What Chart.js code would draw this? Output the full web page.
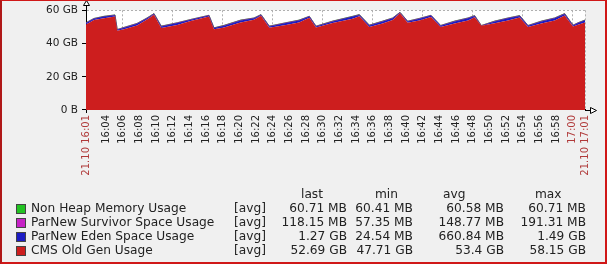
<!DOCTYPE html>
<html>
<head>
<meta charset="utf-8">
<script src="https://cdn.jsdelivr.net/npm/chart.js@4.4.1/dist/chart.umd.min.js"></script>
<style>
  html, body { margin: 0; padding: 0; background: #f0f0f0; }
  #wrap { position: relative; width: 607px; height: 264px; background: #f0f0f0; overflow: hidden;
          font-family: "DejaVu Sans", sans-serif; color: #222; }
  #c { position: absolute; left: 0; top: 0; }
  #frame { position: absolute; left: 0; top: 0; width: 607px; height: 264px; box-sizing: border-box;
           border-top: 1px solid #d01818; border-left: 2px solid #b01818; border-right: 2px solid #d01818;
           border-bottom: 2px solid #d01818; pointer-events: none; }
  .t { position: absolute; font-size: 12.2px; line-height: 14px; white-space: nowrap; }
  .r { text-align: right; }
  .sw { position: absolute; width: 10px; height: 10px; box-sizing: border-box; border: 1px solid #444; }
</style>
</head>
<body>
<div id="wrap">
  <canvas id="c" width="607" height="264"></canvas>
  <div id="legend"></div>
  <div id="frame"></div>
</div>
<script>
// ---- data (minutes after 16:00, values in GB) ----
const timeStart = 1.6;     // 16:01:36
const timeEnd = 61.48;     // 17:01:29
const times = [1.6, 2.56, 3.76, 5.08, 5.35, 6.16, 7.72, 8.92, 9.76, 10.63, 12.55, 14.16, 16.36, 16.96, 18.16, 20.16, 21.76, 22.6, 23.6, 25.6, 27.16, 28.4, 29.2, 31.2, 33.6, 34.4, 35.6, 37.2, 38.4, 39.28, 40.2, 41.6, 43.0, 44.16, 45.84, 47.44, 48.24, 49.04, 50.64, 52.24, 53.64, 54.64, 56.24, 57.84, 59.04, 60.04, 60.64, 61.48];
const cmsOldGen = [51.5, 54.1, 55.2, 56.3, 47.7, 48.6, 50.8, 54.4, 57.3, 49.4, 51.1, 53.5, 56.2, 48.6, 49.7, 52.6, 54.3, 56.7, 49.5, 51.2, 52.7, 55.5, 49.7, 52.3, 54.9, 56.4, 50.0, 52.1, 54.2, 58.15, 52.5, 53.8, 55.9, 50.0, 52.1, 53.8, 55.8, 50.7, 52.2, 53.9, 55.7, 50.0, 52.1, 53.8, 56.9, 50.3, 51.3, 52.69];
const parNewEden = [0.9, 0.8, 1.0, 0.7, 0.6, 0.9, 1.1, 0.8, 0.5, 0.9, 1.2, 0.8, 0.6, 0.7, 1.0, 1.3, 0.9, 0.5, 0.8, 1.1, 1.2, 0.7, 0.6, 1.0, 1.3, 0.8, 0.9, 1.2, 1.0, 0.4, 0.8, 1.1, 0.9, 0.7, 1.2, 1.4, 0.8, 0.03, 1.1, 1.3, 0.9, 0.7, 1.2, 1.4, 0.9, 0.6, 1.0, 1.27];
const parNewSurvivor = [0.12, 0.15, 0.14, 0.17, 0.10, 0.16, 0.15, 0.13, 0.18, 0.12, 0.16, 0.14, 0.15, 0.11, 0.17, 0.15, 0.13, 0.16, 0.12, 0.18, 0.14, 0.15, 0.10, 0.16, 0.13, 0.17, 0.12, 0.15, 0.14, 0.19, 0.11, 0.16, 0.15, 0.13, 0.17, 0.14, 0.16, 0.06, 0.15, 0.13, 0.17, 0.12, 0.15, 0.14, 0.18, 0.11, 0.16, 0.12];
const nonHeap = [0.059, 0.059, 0.059, 0.059, 0.059, 0.059, 0.059, 0.059, 0.059, 0.059, 0.059, 0.059, 0.059, 0.059, 0.059, 0.059, 0.059, 0.059, 0.059, 0.059, 0.059, 0.059, 0.059, 0.059, 0.059, 0.059, 0.059, 0.059, 0.059, 0.059, 0.059, 0.059, 0.059, 0.059, 0.059, 0.059, 0.059, 0.059, 0.059, 0.059, 0.059, 0.059, 0.059, 0.059, 0.059, 0.059, 0.059, 0.059];

const xTickLabels = ['21.10 16:01', '16:04', '16:06', '16:08', '16:10', '16:12', '16:14', '16:16', '16:18', '16:20', '16:22', '16:24', '16:26', '16:28', '16:30', '16:32', '16:34', '16:36', '16:38', '16:40', '16:42', '16:44', '16:46', '16:48', '16:50', '16:52', '16:54', '16:56', '16:58', '17:00', '21.10 17:01'];
const highlightedTicks = ['21.10 16:01', '17:00', '21.10 17:01'];
const yTickValues = [0, 20, 40, 60];
const yTickLabels = ['0 B', '20 GB', '40 GB', '60 GB'];

const legendNames = ['Non Heap Memory Usage', 'ParNew Survivor Space Usage', 'ParNew Eden Space Usage', 'CMS Old Gen Usage'];
const statHeaders = ['last', 'min', 'avg', 'max'];
const lastVals = ['60.71 MB', '118.15 MB', '1.27 GB', '52.69 GB'];
const minVals = ['60.41 MB', '57.35 MB', '24.54 MB', '47.71 GB'];
const avgVals = ['60.58 MB', '148.77 MB', '660.84 MB', '53.4 GB'];
const maxVals = ['60.71 MB', '191.31 MB', '1.49 GB', '58.15 GB'];

// ---- helpers ----
function tickValue(label) {
  if (label === xTickLabels[0]) return timeStart;
  if (label === xTickLabels[xTickLabels.length - 1]) return timeEnd;
  const [h, m] = label.slice(-5).split(':').map(Number);
  return (h - 16) * 60 + m;
}
const pts = arr => arr.map((v, i) => ({ x: times[i], y: v }));

const colors = {
  nonHeap: '#22c322', survivor: '#c622c6', eden: '#1c1cc4', cms: '#cd1e1e'
};

const bgPlugin = {
  id: 'bg',
  beforeDraw(chart) {
    const { ctx, chartArea: a } = chart;
    ctx.save();
    ctx.fillStyle = '#ffffff';
    ctx.fillRect(a.left, a.top, a.right - a.left, a.bottom - a.top);
    ctx.restore();
  },
  afterDraw(chart) {
    const { ctx, chartArea: a } = chart;
    ctx.save();
    ctx.strokeStyle = '#000';
    ctx.lineWidth = 1;
    const x = Math.round(a.left) + 0.5;
    const y = Math.round(a.bottom) + 0.5;
    // y axis extension + arrow
    ctx.beginPath(); ctx.moveTo(x, a.top); ctx.lineTo(x, 5.5); ctx.stroke();
    ctx.beginPath(); ctx.moveTo(x - 3, 5.5); ctx.lineTo(x + 3, 5.5); ctx.lineTo(x, 0.5); ctx.closePath();
    ctx.fillStyle = '#fff'; ctx.fill(); ctx.stroke();
    // x axis extension + arrow
    ctx.beginPath(); ctx.moveTo(a.right, y); ctx.lineTo(590.5, y); ctx.stroke();
    ctx.beginPath(); ctx.moveTo(590.5, y - 3); ctx.lineTo(590.5, y + 3); ctx.lineTo(596.5, y); ctx.closePath();
    ctx.fill(); ctx.stroke();
    // small tick below the axis origin
    ctx.beginPath(); ctx.moveTo(x, a.bottom); ctx.lineTo(x, a.bottom + 3); ctx.stroke();
    ctx.restore();
  }
};

const chart = new Chart(document.getElementById('c'), {
  type: 'line',
  data: {
    datasets: [
      { label: 'CMS Old Gen Usage', data: pts(cmsOldGen), backgroundColor: colors.cms,
        borderColor: 'rgba(0,0,0,0)', borderWidth: 0, fill: 'origin', pointRadius: 0, tension: 0 },
      { label: 'ParNew Eden Space Usage', data: pts(parNewEden), backgroundColor: colors.eden,
        borderColor: 'rgba(0,0,0,0)', borderWidth: 0, fill: '-1', pointRadius: 0, tension: 0 },
      { label: 'ParNew Survivor Space Usage', data: pts(parNewSurvivor), backgroundColor: colors.survivor,
        borderColor: 'rgba(150,40,150,0.6)', borderWidth: 1, fill: '-1', pointRadius: 0, tension: 0 },
      { label: 'Non Heap Memory Usage', data: pts(nonHeap), backgroundColor: colors.nonHeap,
        borderColor: 'rgba(40,140,40,0.85)', borderWidth: 1, fill: '-1', pointRadius: 0, tension: 0 }
    ]
  },
  options: {
    responsive: false,
    animation: false,
    events: [],
    layout: { padding: { top: 9, right: 22, left: 0, bottom: 0 } },
    plugins: { legend: { display: false }, tooltip: { enabled: false } },
    scales: {
      x: {
        type: 'linear',
        min: timeStart,
        max: timeEnd,
        afterFit(s) { s.height = 154; },
        afterBuildTicks(s) { s.ticks = xTickLabels.map(l => ({ value: tickValue(l) })); },
        ticks: {
          autoSkip: false,
          minRotation: 90,
          maxRotation: 90,
          padding: 5,
          font: { family: 'DejaVu Sans', size: 10 },
          color: c => highlightedTicks.includes(xTickLabels[c.index]) ? '#b03a3a' : '#222',
          callback: (v, i) => xTickLabels[i]
        },
        grid: {
          drawTicks: false,
          color: c => {
            const v = c.tick ? c.tick.value : null;
            if (v === null) return 'rgba(0,0,0,0)';
            if (v === timeEnd) return '#b0b0b0';
            return (Math.abs(v % 6) < 1e-6 && v > timeStart) ? '#b0b0b0' : 'rgba(0,0,0,0)';
          },
          lineWidth: 1
        },
        border: { display: true, color: '#000', width: 1, dash: [2, 2] }
      },
      y: {
        stacked: true,
        min: 0,
        max: 60,
        afterFit(s) { s.width = 86; },
        afterBuildTicks(s) { s.ticks = yTickValues.map(v => ({ value: v })); },
        ticks: {
          padding: 4,
          font: { family: 'DejaVu Sans', size: 10.5 },
          color: '#222',
          callback: (v) => yTickLabels[yTickValues.indexOf(v)]
        },
        grid: {
          color: '#b0b0b0',
          tickColor: '#000',
          tickLength: 4,
          tickBorderDash: [],
          lineWidth: 1
        },
        border: { display: true, color: '#000', width: 1, dash: [2, 2] }
      }
    }
  },
  plugins: [bgPlugin]
});

// ---- legend table (HTML text) ----
const legend = document.getElementById('legend');
const swatchColors = [colors.nonHeap, colors.survivor, colors.eden, colors.cms];
const headerLeft = [301, 375, 443, 535];
const colRight = [347, 413, 504, 586];
function addText(txt, left, top, right) {
  const d = document.createElement('div');
  d.className = 't' + (right !== undefined ? ' r' : '');
  d.textContent = txt;
  d.style.top = top + 'px';
  if (right !== undefined) { d.style.right = (607 - right) + 'px'; }
  else { d.style.left = left + 'px'; }
  legend.appendChild(d);
}
statHeaders.forEach((h, i) => addText(h, headerLeft[i], 187));
const cols = [lastVals, minVals, avgVals, maxVals];
legendNames.forEach((name, r) => {
  const top = 201 + r * 14;
  const sw = document.createElement('div');
  sw.className = 'sw';
  sw.style.left = '16px';
  sw.style.top = (top + 2.5) + 'px';
  sw.style.background = swatchColors[r];
  legend.appendChild(sw);
  addText(name, 31, top);
  addText('[avg]', 234, top);
  cols.forEach((col, ci) => addText(col[r], null, top, colRight[ci]));
});
</script>
</body>
</html>
